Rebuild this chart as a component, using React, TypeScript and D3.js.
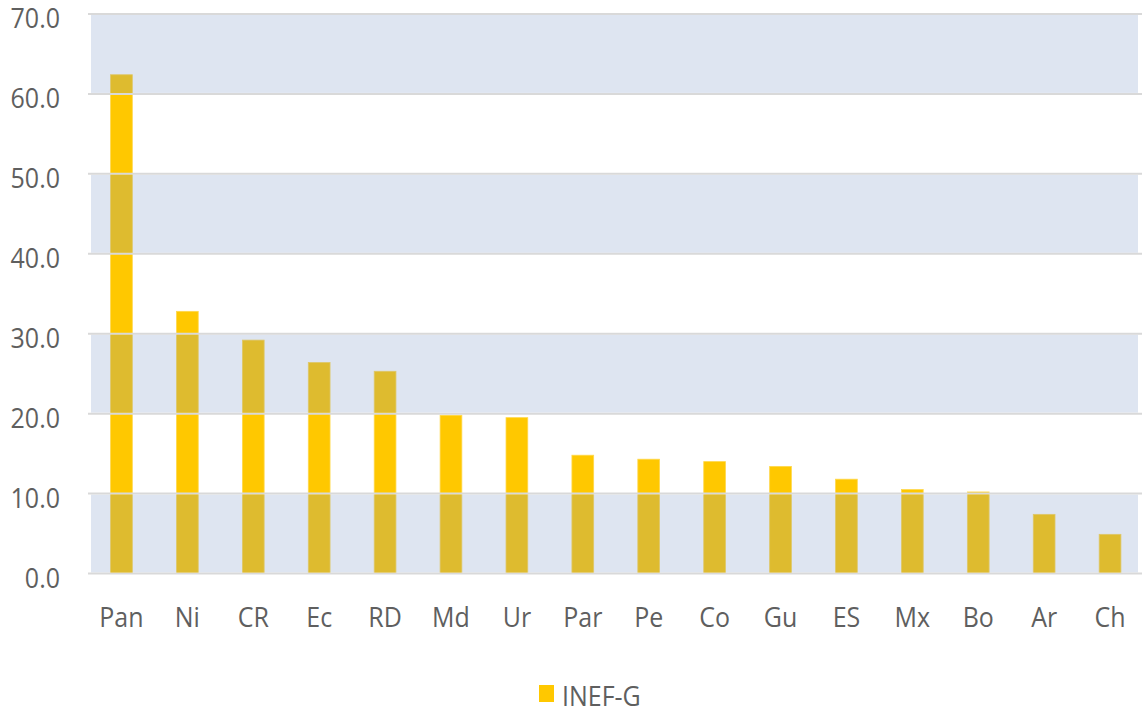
import React from "react";
import * as d3 from "d3";

const categories = ["Pan", "Ni", "CR", "Ec", "RD", "Md", "Ur", "Par", "Pe", "Co", "Gu", "ES", "Mx", "Bo", "Ar", "Ch"];
const values = [62.4, 32.8, 29.2, 26.4, 25.3, 19.8, 19.5, 14.8, 14.3, 14.0, 13.4, 11.8, 10.5, 10.2, 7.4, 4.9];
const yTicks = [0, 10, 20, 30, 40, 50, 60, 70];
const seriesName = "INEF-G";

const W = 1142;
const H = 709;
const FONT = "'Open Sans', sans-serif";
const TEXT = "#5f5f5f";
const SY = 1.12;

export default function App() {
  const x = d3.scaleBand<string>().domain(categories).range([88.5, 1143]).paddingInner(0.67).paddingOuter(0.335);
  const y = d3.scaleLinear().domain([0, 70]).range([573.5, 14]);
  const bands = [[0, 10], [20, 30], [40, 50], [60, 70]];
  return (
    <svg width={W} height={H} style={{ position: "absolute", left: 0, top: 0, background: "#fff" }}>
      {values.map((v, i) => (
        <rect key={categories[i]} x={x(categories[i])} y={y(v)} width={x.bandwidth()} height={y(0) - y(v)} fill="#FFC800" stroke="#FFD84D" strokeWidth={0.8} />
      ))}
      {bands.map(([a, b]) => (
        <rect key={a} x={91} y={y(b) + 1} width={1138 - 91} height={y(a) - y(b) - 2} fill="rgb(117,146,196)" fillOpacity={0.24} />
      ))}
      {yTicks.map((t) => (
        <line key={t} x1={88} x2={1142} y1={y(t)} y2={y(t)} stroke="#D9D9D9" strokeWidth={2} />
      ))}
      {yTicks.map((t) => (
        <text key={t} transform={`translate(60,${y(t) + 14}) scale(1,${SY})`} textAnchor="end" fontFamily={FONT} fontSize={25} fill={TEXT}>
          {d3.format(".1f")(t)}
        </text>
      ))}
      {categories.map((c) => (
        <text key={c} transform={`translate(${(x(c) as number) + x.bandwidth() / 2},627) scale(1,${SY})`} textAnchor="middle" fontFamily={FONT} fontSize={25} fill={TEXT}>
          {c}
        </text>
      ))}
      <rect x={539} y={685} width={15} height={17} fill="#FFC800" />
      <text transform={`translate(562,705.5) scale(1,1.07)`} fontFamily={FONT} fontSize={25} fill={TEXT}>{seriesName}</text>
    </svg>
  );
}
